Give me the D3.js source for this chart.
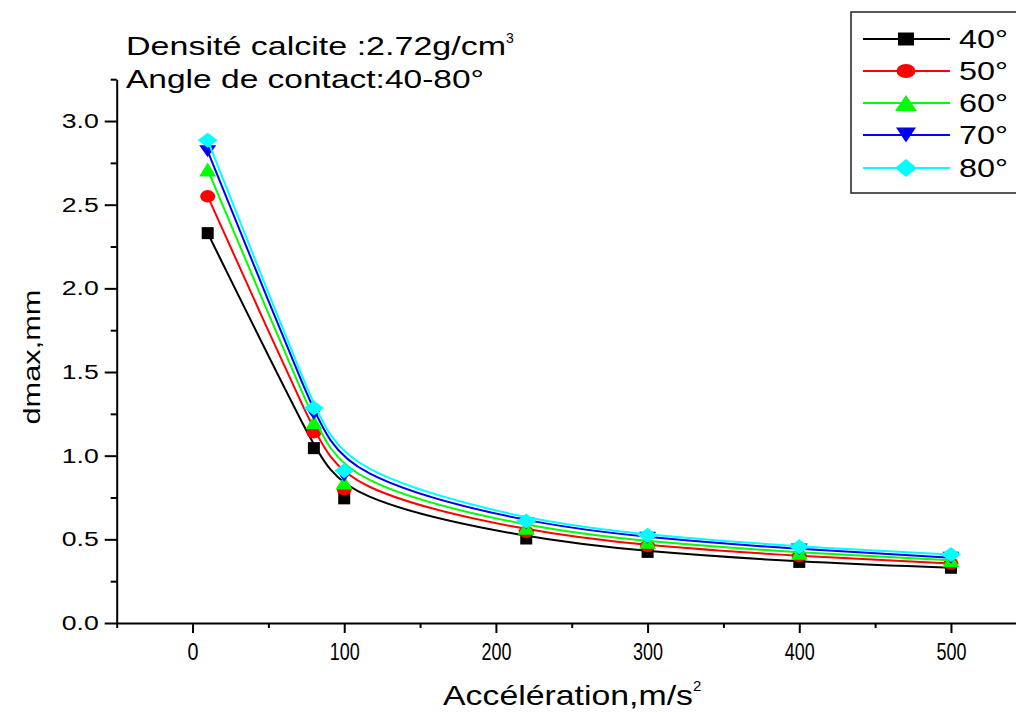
<!DOCTYPE html>
<html>
<head>
<meta charset="utf-8">
<script src="https://cdn.jsdelivr.net/npm/d3@7"></script>
<style>
  html, body { margin: 0; padding: 0; background: #fff; }
  svg { display: block; font-family: "Liberation Sans", Arial, sans-serif; }
</style>
</head>
<body>
<svg id="chart" width="1016" height="713"></svg>
<script>
// ---- data ----
const accelerations = [10, 80, 100, 220, 300, 400, 500];
const seriesNames = ["40°", "50°", "60°", "70°", "80°"];
const dmax40 = [2.33, 1.045, 0.745, 0.505, 0.425, 0.365, 0.33];
const dmax50 = [2.55, 1.14, 0.80, 0.545, 0.46, 0.40, 0.355];
const dmax60 = [2.71, 1.20, 0.84, 0.57, 0.485, 0.42, 0.375];
const dmax70 = [2.82, 1.25, 0.88, 0.595, 0.51, 0.44, 0.39];
const dmax80 = [2.885, 1.285, 0.91, 0.61, 0.525, 0.455, 0.41];
const seriesColors = ["#000000", "#ff0000", "#00ff00", "#0000ff", "#00ffff"];
const seriesShapes = ["square", "circle", "triangleUp", "triangleDown", "diamond"];
const xMajorTicks = [0, 100, 200, 300, 400, 500];
const xMinorTicks = [-50, 50, 150, 250, 350, 450, 550];
const yMajorTicks = [0, 0.5, 1.0, 1.5, 2.0, 2.5, 3.0];
const yMinorTicks = [0.25, 0.75, 1.25, 1.75, 2.25, 2.75, 3.25];

const allSeries = [dmax40, dmax50, dmax60, dmax70, dmax80];

const svg = d3.select("#chart");
const x = d3.scaleLinear().domain([-50, 550]).range([116.7, 1026.8]);
const y = d3.scaleLinear().domain([0, 3.25]).range([623, 79.2]);

// ---- marker shape ----
function shapePath(shape, w, h) {
  const a = w / 2, b = h / 2;
  switch (shape) {
    case "square": return `M${-a},${-b}H${a}V${b}H${-a}Z`;
    case "circle": return `M${-a},0A${a},${b} 0 1,0 ${a},0A${a},${b} 0 1,0 ${-a},0Z`;
    case "triangleUp": return `M0,${-b}L${a},${b}L${-a},${b}Z`;
    case "triangleDown": return `M0,${b}L${a},${-b}L${-a},${-b}Z`;
    case "diamond": return `M0,${-b}L${a},0L0,${b}L${-a},0Z`;
  }
}
const plotSizes = {square: [12, 12], circle: [15, 12.5], triangleUp: [17, 14], triangleDown: [17, 12], diamond: [20, 15]};
const legendSizes = {square: [16, 13], circle: [19, 14], triangleUp: [22, 16], triangleDown: [20, 15], diamond: [22, 18]};

// ---- axes ----
const gx = svg.append("g").attr("transform", "translate(0,623)");
gx.call(d3.axisBottom(x).tickValues(xMajorTicks).tickSize(10).tickSizeOuter(0).tickPadding(10).tickFormat(d3.format("d")));
gx.append("g").call(d3.axisBottom(x).tickValues(xMinorTicks).tickSize(5).tickSizeOuter(0).tickFormat(""))
  .select(".domain").remove();
gx.selectAll("path.domain").attr("stroke", "#000").attr("stroke-width", 2);
gx.selectAll(".tick line").attr("stroke", "#000").attr("stroke-width", 2);
gx.selectAll(".tick text").attr("font-size", 24).attr("fill", "#000")
  .attr("font-family", "Liberation Sans Narrow, Liberation Sans, Arial")
  .attr("textLength", d => d === 0 ? 11 : 30).attr("lengthAdjust", "spacingAndGlyphs");

const gy = svg.append("g").attr("transform", "translate(116.7,0)");
gy.call(d3.axisLeft(y).tickValues(yMajorTicks).tickSize(12).tickSizeOuter(0).tickPadding(6).tickFormat(d3.format(".1f")));
gy.append("g").call(d3.axisLeft(y).tickValues(yMinorTicks).tickSize(6).tickSizeOuter(0).tickFormat(""))
  .select(".domain").remove();
gy.selectAll("path.domain").attr("stroke", "#000").attr("stroke-width", 2);
gy.selectAll(".tick line").attr("stroke", "#000").attr("stroke-width", 2);
gy.selectAll(".tick text").attr("font-size", 20).attr("fill", "#000")
  .attr("textLength", 37).attr("lengthAdjust", "spacingAndGlyphs");

// ---- axis titles ----
const xt = svg.append("text").attr("x", 443).attr("y", 705).attr("font-size", 28).attr("fill", "#000");
xt.append("tspan").text("Accélération,m/s").attr("textLength", 250).attr("lengthAdjust", "spacingAndGlyphs");
xt.append("tspan").text("2").attr("font-size", 15).attr("dy", -14);

svg.append("text").attr("transform", "translate(40,357) rotate(-90)")
  .attr("text-anchor", "middle").attr("font-size", 24).attr("fill", "#000")
  .attr("textLength", 135).attr("lengthAdjust", "spacingAndGlyphs")
  .text("dmax,mm");

// ---- annotation ----
const a1 = svg.append("text").attr("x", 126).attr("y", 55).attr("font-size", 25).attr("fill", "#000");
a1.append("tspan").text("Densité calcite :2.72g/cm").attr("textLength", 380).attr("lengthAdjust", "spacingAndGlyphs");
a1.append("tspan").text("3").attr("font-size", 14).attr("dy", -12);
svg.append("text").attr("x", 126).attr("y", 88).attr("font-size", 25).attr("fill", "#000")
  .attr("textLength", 358).attr("lengthAdjust", "spacingAndGlyphs")
  .text("Angle de contact:40-80°");

// ---- series ----
const line = d3.line().x(d => x(d[0])).y(d => y(d[1])).curve(d3.curveBasis);
allSeries.forEach((vals, i) => {
  const pts = accelerations.map((a, j) => [a, vals[j]]);
  const g = svg.append("g");
  g.append("path").attr("d", line(pts)).attr("fill", "none")
    .attr("stroke", seriesColors[i]).attr("stroke-width", 2);
  const [w, h] = plotSizes[seriesShapes[i]];
  g.selectAll("path.m").data(pts).join("path").attr("class", "m")
    .attr("transform", d => `translate(${x(d[0])},${y(d[1])})`)
    .attr("d", shapePath(seriesShapes[i], w, h))
    .attr("fill", seriesColors[i]);
});

// ---- legend ----
const lg = svg.append("g");
lg.append("rect").attr("x", 851).attr("y", 12).attr("width", 200).attr("height", 181)
  .attr("fill", "#fff").attr("stroke", "#222").attr("stroke-width", 1.5);
const rowY = [39, 71, 103, 135, 168];
seriesNames.forEach((name, i) => {
  const yy = rowY[i];
  lg.append("line").attr("x1", 863).attr("x2", 950).attr("y1", yy).attr("y2", yy)
    .attr("stroke", seriesColors[i]).attr("stroke-width", 2);
  const [w, h] = legendSizes[seriesShapes[i]];
  lg.append("path").attr("transform", `translate(906,${yy})`)
    .attr("d", shapePath(seriesShapes[i], w, h)).attr("fill", seriesColors[i]);
  lg.append("text").attr("x", 959).attr("y", yy + 9).attr("font-size", 25).attr("fill", "#000")
    .attr("textLength", 49).attr("lengthAdjust", "spacingAndGlyphs").text(name);
});
</script>
</body>
</html>
